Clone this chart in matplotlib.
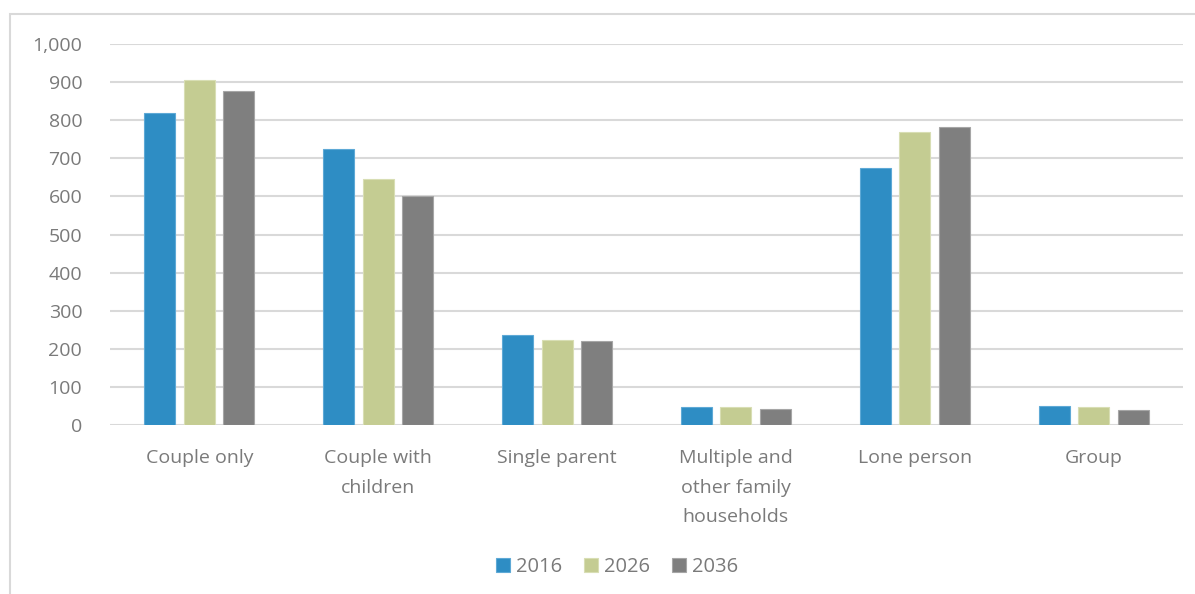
import matplotlib
matplotlib.use("Agg")
import matplotlib.pyplot as plt
from matplotlib.patches import Rectangle
import numpy as np

categories = ["Couple only", "Couple with\nchildren", "Single parent",
              "Multiple and\nother family\nhouseholds", "Lone person", "Group"]
years = ["2016", "2026", "2036"]
values_2016 = [818, 724, 236, 47, 674, 50]
values_2026 = [905, 645, 223, 46, 768, 46]
values_2036 = [877, 601, 220, 43, 782, 39]
yticks = [0, 100, 200, 300, 400, 500, 600, 700, 800, 900, 1000]

colors = ["#2E8DC4", "#C4CC92", "#7F7F7F"]
edge_colors = ["#5EA9D6", "#D8DEB4", "#A6A6A6"]
text_color = "#7A7A7A"
grid_color = "#D9D9D9"

plt.rcParams["font.family"] = ["Open Sans", "DejaVu Sans"]

W, H = 1195, 594
fig = plt.figure(figsize=(W / 100, H / 100), dpi=100)
ax = fig.add_axes([110 / W, 1 - 425 / H, (1183 - 110) / W, (425 - 44) / H])

series = [values_2016, values_2026, values_2036]
x = np.arange(len(categories))
width = 0.174
pitch = 0.221
for i, (vals, year) in enumerate(zip(series, years)):
    ax.bar(x + (i - 1) * pitch, vals, width, color=colors[i], label=year,
           edgecolor=edge_colors[i], linewidth=0.8, zorder=3)

ax.set_xlim(-0.5, len(categories) - 0.5)
ax.set_ylim(0, 1000)
ax.set_yticks(yticks)
ax.set_yticklabels([f"{v:,}" for v in yticks])
ax.set_xticks(x)
ax.set_xticklabels(categories, linespacing=1.85)
ax.tick_params(axis="both", length=0, labelsize=14, colors=text_color)
ax.tick_params(axis="y", pad=20)
ax.tick_params(axis="x", pad=17)
for lbl in ax.get_yticklabels():
    lbl.set_horizontalalignment("right")

ax.grid(axis="y", color=grid_color, linewidth=1.5, zorder=0)
ax.set_axisbelow(True)
for s in ax.spines.values():
    s.set_visible(False)

leg = fig.legend(loc="center", bbox_to_anchor=(617 / W, 1 - 567 / H), ncol=3,
                 frameon=False, fontsize=14.5, handlelength=0.7, handleheight=0.7,
                 handletextpad=0.3, columnspacing=1.1)
for t in leg.get_texts():
    t.set_color(text_color)

# outer chart frame
fig.patches.append(Rectangle((9.5 / W, -0.05), 1.2, 1 - 14 / H + 0.05,
                             transform=fig.transFigure, fill=False,
                             edgecolor=grid_color, linewidth=1.5))

fig.savefig("out.png", dpi=100)
